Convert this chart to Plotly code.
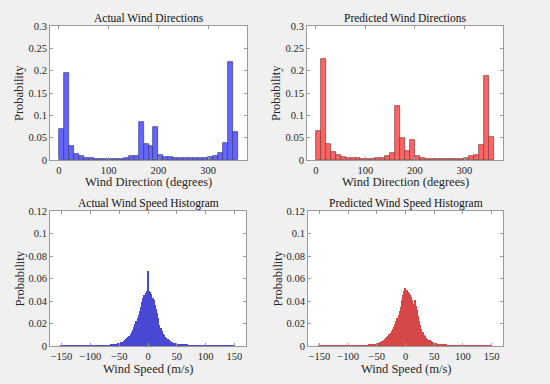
import plotly.graph_objects as go

# ---------------- data ----------------
dir_centers = [5 + 10 * i for i in range(36)]
actual_dir = [0.070, 0.195, 0.031, 0.014, 0.009, 0.005, 0.004, 0.003, 0.002, 0.002,
              0.002, 0.002, 0.003, 0.004, 0.008, 0.010, 0.085, 0.036, 0.032, 0.074,
              0.012, 0.007, 0.006, 0.005, 0.004, 0.004, 0.004, 0.004, 0.005, 0.005,
              0.007, 0.010, 0.015, 0.039, 0.220, 0.062]
pred_dir = [0.065, 0.227, 0.036, 0.017, 0.011, 0.007, 0.005, 0.004, 0.004, 0.003,
            0.002, 0.002, 0.004, 0.005, 0.010, 0.015, 0.122, 0.049, 0.021, 0.045,
            0.008, 0.004, 0.002, 0.002, 0.002, 0.002, 0.002, 0.002, 0.002, 0.003,
            0.004, 0.008, 0.011, 0.033, 0.189, 0.052]

speed_centers = list(range(-150, 152, 2))  # 151 bins, width 2
tail_left_actual = [0.0001] * 20 + [0.0002] * 15
tail_right_actual = [0.0003] * 10 + [0.0002] * 10 + [0.0001] * 15
core_actual = [0.0003, 0.0003, 0.0004, 0.0004, 0.0005, 0.0006, 0.0007, 0.0008, 0.0009, 0.0010,
               0.0012, 0.0015, 0.0017, 0.0020, 0.0023, 0.0026, 0.0030, 0.0034, 0.0039, 0.0045,
               0.0052, 0.0060, 0.0069, 0.0080, 0.0093, 0.0108, 0.0125, 0.0145, 0.0168, 0.0192,
               0.0218, 0.0246, 0.0280, 0.0315, 0.0350, 0.0395, 0.0425, 0.0450, 0.0475, 0.0488,
               0.0670,
               0.0490, 0.0482, 0.0460, 0.0430, 0.0405, 0.0365, 0.0330, 0.0290, 0.0245, 0.0190,
               0.0160, 0.0135, 0.0110, 0.0095, 0.0080, 0.0068, 0.0058, 0.0050, 0.0044, 0.0039,
               0.0034, 0.0030, 0.0026, 0.0023, 0.0020, 0.0018, 0.0016, 0.0014, 0.0013, 0.0012,
               0.0011, 0.0010, 0.0009, 0.0009, 0.0008, 0.0007, 0.0006, 0.0005, 0.0005, 0.0004]
actual_speed = tail_left_actual + core_actual + tail_right_actual

tail_left_pred = [0.0001] * 20 + [0.0002] * 15
tail_right_pred = [0.0003] * 10 + [0.0002] * 10 + [0.0001] * 15
core_pred = [0.0003, 0.0003, 0.0004, 0.0004, 0.0005, 0.0005, 0.0006, 0.0008, 0.0009, 0.0010,
             0.0012, 0.0013, 0.0015, 0.0018, 0.0021, 0.0024, 0.0027, 0.0030, 0.0034, 0.0038,
             0.0043, 0.0050, 0.0058, 0.0067, 0.0078, 0.0090, 0.0104, 0.0118, 0.0133, 0.0150,
             0.0170, 0.0192, 0.0220, 0.0248, 0.0280, 0.0310, 0.0350, 0.0410, 0.0450, 0.0485,
             0.0515,
             0.0500, 0.0480, 0.0470, 0.0455, 0.0440, 0.0410, 0.0370, 0.0410, 0.0360, 0.0320,
             0.0270, 0.0225, 0.0185, 0.0150, 0.0122, 0.0100, 0.0085, 0.0072, 0.0062, 0.0055,
             0.0050, 0.0043, 0.0038, 0.0034, 0.0030, 0.0027, 0.0025, 0.0022, 0.0019, 0.0017,
             0.0015, 0.0013, 0.0011, 0.0010, 0.0009, 0.0008, 0.0007, 0.0006, 0.0005, 0.0005]
pred_speed = tail_left_pred + core_pred + tail_right_pred

titles = ["Actual Wind Directions", "Predicted Wind Directions",
          "Actual Wind Speed Histogram", "Predicted Wind Speed Histogram"]
xlabels = ["Wind Direction (degrees)", "Wind Direction (degrees)",
           "Wind Speed (m/s)", "Wind Speed (m/s)"]

# ---------------- figure ----------------
W, H = 550, 384
FONT = "Liberation Serif, Times New Roman, serif"
TXT = "#262626"

fig = go.Figure()
fig.add_trace(go.Bar(x=dir_centers, y=actual_dir, width=10, xaxis="x", yaxis="y",
                     marker=dict(color="#6464ff", line=dict(color="#3a3a80", width=0.7))))
fig.add_trace(go.Bar(x=dir_centers, y=pred_dir, width=10, xaxis="x2", yaxis="y2",
                     marker=dict(color="#ff6464", line=dict(color="#803a3a", width=0.7))))
fig.add_trace(go.Bar(x=speed_centers, y=actual_speed, width=2, xaxis="x3", yaxis="y3",
                     marker=dict(color="#4848d4", line=dict(width=0))))
fig.add_trace(go.Bar(x=speed_centers, y=pred_speed, width=2, xaxis="x4", yaxis="y4",
                     marker=dict(color="#d44848", line=dict(width=0))))

# pixel boxes: (left, right, top, bottom)
boxes = [(50, 247, 26, 160), (307, 503, 26, 160), (50, 246, 211, 346), (308, 503, 211, 346)]
xlabel_y = [182, 182, 369, 369]
ylabel_x = [19, 276, 19, 277]
title_y = [18, 18, 203, 203]
xranges = [[-18, 378], [-18, 378], [-170, 170], [-170, 170]]
yranges = [[0, 0.3], [0, 0.3], [0, 0.12], [0, 0.12]]
xdticks = [100, 100, 50, 50]
ydticks = [0.05, 0.05, 0.02, 0.02]

axis_common = dict(showline=True, linecolor="#9a9a9a", linewidth=1, mirror="ticks",
                   ticks="inside", ticklen=3, tickcolor="#9a9a9a", showgrid=False,
                   zeroline=False, automargin=False,
                   tickfont=dict(family=FONT, size=10.5, color=TXT))

for i, (l, r, t, b) in enumerate(boxes):
    sfx = "" if i == 0 else str(i + 1)
    xd = [l / W, r / W]
    yd = [1 - b / H, 1 - t / H]
    fig.layout["xaxis" + sfx] = dict(axis_common, domain=xd, range=xranges[i],
                                     dtick=xdticks[i], tick0=0, anchor="y" + sfx)
    fig.layout["yaxis" + sfx] = dict(axis_common, domain=yd, range=yranges[i],
                                     dtick=ydticks[i], tick0=0, anchor="x" + sfx)
    fig.add_annotation(text=titles[i], x=(l + r) / 2 / W, y=1 - title_y[i] / H,
                       xref="paper", yref="paper", xanchor="center", yanchor="middle",
                       showarrow=False, font=dict(family=FONT, size=11.5, color="#111111"))
    fig.add_annotation(text=xlabels[i], x=(l + r) / 2 / W, y=1 - xlabel_y[i] / H,
                       xref="paper", yref="paper", xanchor="center", yanchor="middle",
                       showarrow=False, font=dict(family=FONT, size=12.5, color=TXT))
    fig.add_annotation(text="Probability", x=ylabel_x[i] / W, y=1 - (t + b) / 2 / H,
                       xref="paper", yref="paper", xanchor="center", yanchor="middle",
                       textangle=-90, showarrow=False,
                       font=dict(family=FONT, size=12.5, color=TXT))

fig.update_layout(width=W, height=H, margin=dict(l=0, r=0, t=0, b=0),
                  paper_bgcolor="#f0f0f0", plot_bgcolor="white", showlegend=False,
                  bargap=0, font=dict(family=FONT, color=TXT))

fig.write_html("out.html", config={"displayModeBar": False},
               post_script="document.body.style.margin='0';document.body.style.padding='0';")
